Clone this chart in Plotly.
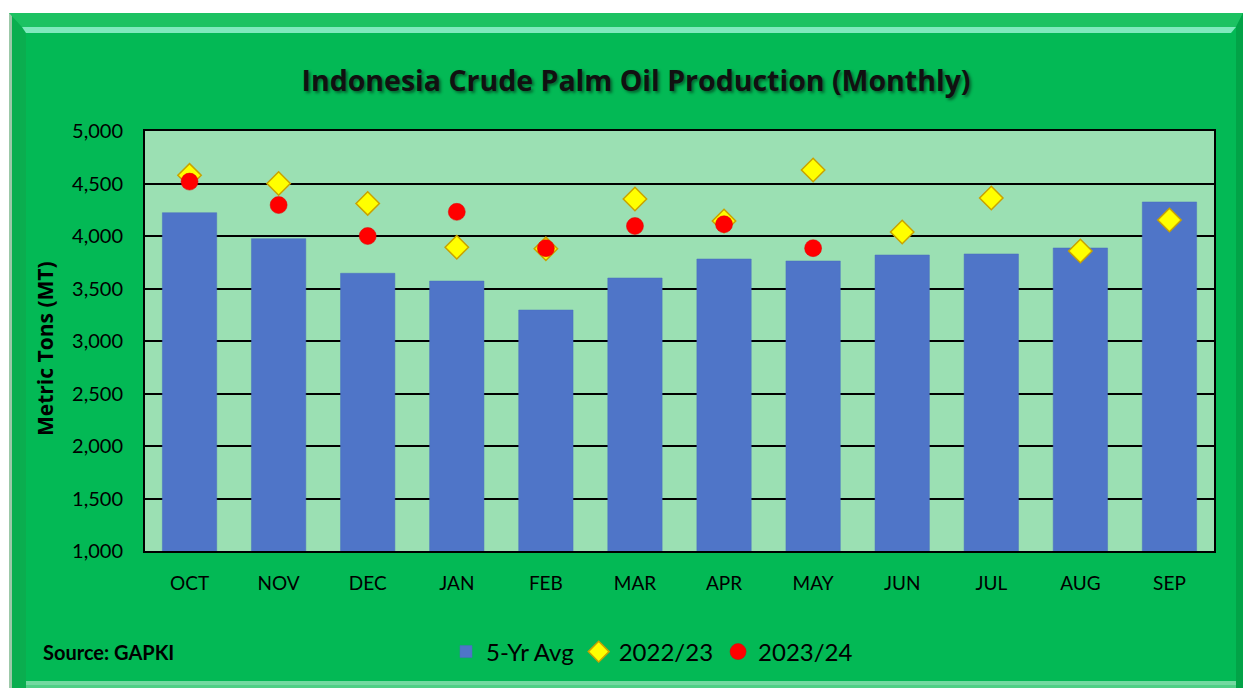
import plotly.graph_objects as go

months = ["OCT", "NOV", "DEC", "JAN", "FEB", "MAR", "APR", "MAY", "JUN", "JUL", "AUG", "SEP"]
avg_5yr = [4222, 3975, 3645, 3571, 3295, 3600, 3781, 3762, 3819, 3829, 3886, 4324]
y2022_23 = [4578, 4500, 4310, 3893, 3878, 4352, 4143, 4629, 4038, 4362, 3857, 4152]
y2023_24 = [4518, 4295, 4000, 4230, 3884, 4095, 4112, 3884, None, None, None, None]
y_ticks = [1000, 1500, 2000, 2500, 3000, 3500, 4000, 4500, 5000]

W, H = 1243, 688
L, R, T, B = 145, 1214, 131, 551


def px(x):
    return (x - L) / (R - L)


def py(y):
    return (B - y) / (B - T)


FONT = "Lato, 'Open Sans', sans-serif"
FONT_WIDE = "'Open Sans', Lato, sans-serif"

fig = go.Figure()
fig.add_trace(go.Bar(
    x=months, y=avg_5yr, name="5-Yr Avg",
    marker=dict(color="#4f75c8", line=dict(color="#4a6fbf", width=0.5)),
))
fig.add_trace(go.Scatter(
    x=months, y=y2022_23, name="2022/23", mode="markers",
    marker=dict(symbol="diamond", size=18, color="#ffff00",
                line=dict(color="#c9a200", width=1.5)),
))
fig.add_trace(go.Scatter(
    x=months, y=y2023_24, name="2023/24", mode="markers",
    marker=dict(symbol="circle", size=17, color="#ff0000",
                line=dict(color="#e00000", width=0.5)),
))

GREEN = "#03b955"
shapes = [
    # white page margins
    dict(type="rect", xref="paper", yref="paper", x0=px(-20), x1=px(W + 20),
         y0=py(13), y1=py(-20), fillcolor="white", line_width=0, layer="below"),
    dict(type="rect", xref="paper", yref="paper", x0=px(-20), x1=px(9),
         y0=py(H + 20), y1=py(-20), fillcolor="white", line_width=0, layer="below"),
    # bevel: left band
    dict(type="rect", xref="paper", yref="paper", x0=px(9), x1=px(12),
         y0=py(H + 5), y1=py(13), fillcolor="#9cc9a8", line_width=0, layer="below"),
    dict(type="path", xref="paper", yref="paper",
         path=f"M {px(12)},{py(H+5)} L {px(12)},{py(14)} L {px(26)},{py(33)} L {px(26)},{py(H+5)} Z",
         fillcolor="#0aae4f", line_width=0, layer="below"),
    # bevel: top band
    dict(type="path", xref="paper", yref="paper",
         path=f"M {px(9)},{py(13)} L {px(W)},{py(13)} L {px(1236)},{py(27)} L {px(22)},{py(27)} Z",
         fillcolor="#1cc262", line_width=0, layer="below"),
    dict(type="path", xref="paper", yref="paper",
         path=f"M {px(22)},{py(27)} L {px(1236)},{py(27)} L {px(1231)},{py(33)} L {px(26)},{py(33)} Z",
         fillcolor="#7fe9bd", line_width=0, layer="below"),
    # bevel: right band
    dict(type="path", xref="paper", yref="paper",
         path=f"M {px(1236)},{py(27)} L {px(W)},{py(13)} L {px(W)},{py(H+5)} L {px(1236)},{py(H+5)} Z",
         fillcolor="#02a347", line_width=0, layer="below"),
    # bevel: bottom highlight
    dict(type="rect", xref="paper", yref="paper", x0=px(26), x1=px(1236),
         y0=py(685), y1=py(681), fillcolor="#72d9a0", line_width=0, layer="below"),
    dict(type="rect", xref="paper", yref="paper", x0=px(26), x1=px(1236),
         y0=py(H + 5), y1=py(685), fillcolor="#4fcf86", line_width=0, layer="below"),
]

annotations = [
    dict(text="<b>Metric Tons (MT)</b>", textangle=-90, xref="paper", yref="paper",
         x=px(45), y=py(349), xanchor="center", yanchor="middle", showarrow=False,
         font=dict(family=FONT_WIDE, size=21, color="black")),
    dict(text="<b>Source: GAPKI</b>", xref="paper", yref="paper",
         x=px(41), y=py(652), xanchor="left", yanchor="middle", showarrow=False,
         font=dict(family=FONT, size=20, color="black")),
]

fig.update_layout(
    width=W, height=H,
    margin=dict(l=L, r=W - R, t=T, b=H - B),
    paper_bgcolor=GREEN,
    plot_bgcolor="#9be0b3",
    bargap=0.39,
    showlegend=True,
    title=dict(
        text="<b>Indonesia Crude Palm Oil Production (Monthly)</b>",
        x=636 / W, xref="container", xanchor="center",
        y=1 - 81 / H, yref="container", yanchor="middle",
        font=dict(family=FONT_WIDE, size=28.5, color="#111111",
                  shadow="2px 2px 3px rgba(0,0,0,0.45)"),
    ),
    legend=dict(
        orientation="h", xref="container", yref="container",
        x=652 / W, y=1 - 652 / H, xanchor="center", yanchor="middle",
        font=dict(family=FONT, size=24, color="black"),
        bgcolor="rgba(0,0,0,0)", itemclick=False,
    ),
    xaxis=dict(
        range=[-0.5, len(months) - 0.5],
        showgrid=False, showline=True, linecolor="black", linewidth=2, mirror=True,
        ticks="", tickfont=dict(family=FONT, size=19, color="black"),
        ticklabelstandoff=14, fixedrange=True,
    ),
    yaxis=dict(
        range=[1000, 5000], tickvals=y_ticks, tickformat=",",
        showgrid=True, gridcolor="black", gridwidth=2,
        showline=True, linecolor="black", linewidth=2, mirror=True,
        ticks="", tickfont=dict(family=FONT, size=20, color="black"),
        ticklabelstandoff=16, zeroline=False, fixedrange=True,
    ),
    shapes=shapes,
    annotations=annotations,
)

fig.write_html("out.html", config={"displayModeBar": False},
               post_script="document.body.style.margin='0';")
